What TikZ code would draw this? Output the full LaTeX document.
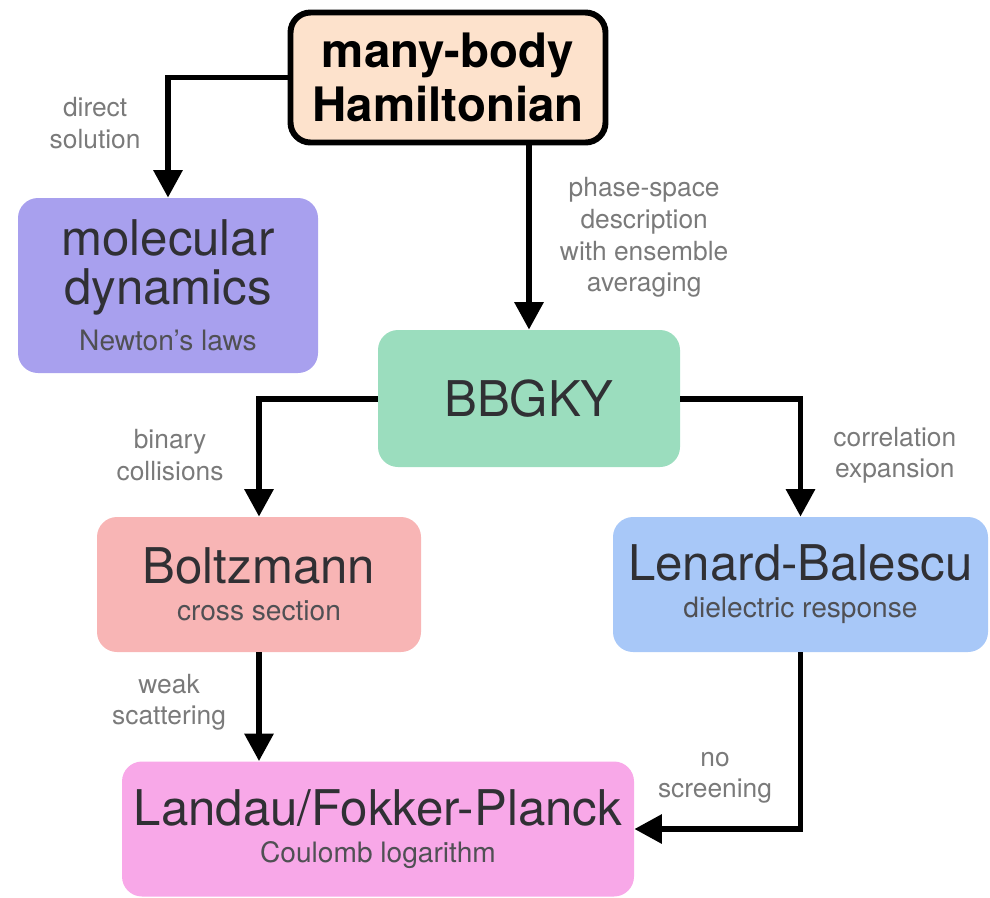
\documentclass[tikz,border=0pt]{standalone}
\usepackage{fontspec}
\setmainfont{TeX Gyre Heros}
\usetikzlibrary{arrows.meta}

\begin{document}
\begin{tikzpicture}[
    box/.style={rectangle, rounded corners=0.4cm, inner sep=0pt, align=center, text=boxtext, font=\fontsize{16}{21}\selectfont},
    flow/.style={line width=3.4pt, -{Triangle[length=0.55cm,width=0.56cm]}},
    lbl/.style={align=center, inner sep=0pt, text=lbltext, font=\fontsize{15}{18}\selectfont}
]
            \useasboundingbox (0,0) rectangle (19.8,-17.94);
            \xdefinecolor{boxtext}{RGB}{48, 48, 52}
            \xdefinecolor{subtext}{RGB}{80, 80, 84}
            \xdefinecolor{lbltext}{RGB}{122, 122, 122}

            % Draw the Hamiltonian box on top
            \node[box, draw, line width=3.4pt, fill={rgb,255:red,253;green,226;blue,204}, text=black,
                  minimum width=6.3cm, minimum height=2.6cm, font=\fontsize{27}{31}\selectfont\bfseries]
                  (Ham) at (8.96, -1.55) {many-body\\Hamiltonian};
            % Draw the models below it
            \node[box, fill={rgb,255:red,168;green,160;blue,238}, minimum width=6cm, minimum height=3.5cm]
                  (MD) at (3.36, -5.71) {{\fontsize{28}{28}\selectfont molecular}\\[7pt]{\fontsize{28}{28}\selectfont dynamics}\\[5pt]{\color{subtext}Newton's laws}};
            \node[box, fill={rgb,255:red,155;green,221;blue,190}, minimum width=6.04cm, minimum height=2.74cm]
                  (BBGKY) at (10.58, -7.97) {\fontsize{28}{28}\selectfont BBGKY};
            \node[box, fill={rgb,255:red,248;green,181;blue,181}, minimum width=6.48cm, minimum height=2.7cm]
                  (Boltz) at (5.18, -11.69) {{\fontsize{28}{28}\selectfont Boltzmann}\\{\color{subtext}cross section}};
            \node[box, fill={rgb,255:red,168;green,200;blue,248}, minimum width=7.5cm, minimum height=2.7cm]
                  (LB) at (16.01, -11.69) {{\fontsize{28}{28}\selectfont Lenard-Balescu}\\{\color{subtext}dielectric response}};
            \node[box, fill={rgb,255:red,248;green,168;blue,232}, minimum width=10.24cm, minimum height=2.7cm]
                  (Landau) at (7.56, -16.58) {{\fontsize{28}{28}\selectfont Landau/Fokker-Planck}\\{\color{subtext}Coulomb logarithm}};

            % Connect the Hamiltonian to the models
            \draw[flow] (Ham.west) -| (MD.north) node (lDirect) [lbl, pos=0.69, left=0.49cm] {direct\\solution};
            \draw[flow] (Ham.south -| BBGKY.north) -- (BBGKY.north) node (lPhase) [lbl, pos=0.5, right=0.56cm] {phase-space\\description\\with ensemble\\averaging};

            % Split BBGKY both ways
            \draw[flow] (BBGKY.west) -| (Boltz.north) node (lBinary) [lbl, pos=0.74, left=0.65cm] {binary\\collisions};
            \draw[flow] (BBGKY.east) -| (LB.north) node (lCorr) [lbl, pos=0.74, right=0.6cm] {correlation\\expansion};

            % Both end in Landau
            \draw[flow] (Boltz.south) -- (Boltz.south |- Landau.north) node (lWeak) [lbl, pos=0.46, left=0.6cm] {weak\\scattering};
            \draw[flow] (LB.south) |- (Landau.east) node (lScreen) [lbl, pos=0.355, left=0.51cm] {no\\screening};

        \end{tikzpicture}
\end{document}
